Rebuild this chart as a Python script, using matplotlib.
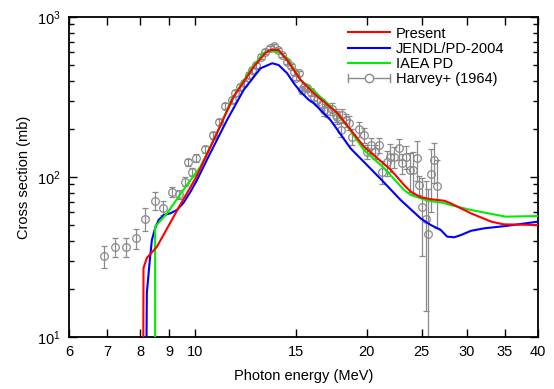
import numpy as np
import matplotlib
matplotlib.use("Agg")
import matplotlib.pyplot as plt
from matplotlib.lines import Line2D
from matplotlib.legend_handler import HandlerBase
from matplotlib.ticker import FixedLocator, FixedFormatter, NullLocator

plt.rcParams["font.family"] = ["Liberation Sans", "DejaVu Sans"]
plt.rcParams["mathtext.fontset"] = "custom"
plt.rcParams["mathtext.rm"] = "Liberation Sans"
plt.rcParams["mathtext.it"] = "Liberation Sans:italic"

# ── Evaluated curves (photon energy in MeV, cross section in mb) ──
present_e = [8.10, 8.11, 8.22, 8.56, 9.47, 10.04, 10.77, 11.68, 12.67, 13.28,
             13.55, 14.01, 14.50, 15.31, 16.13, 17.76, 19.78, 22.05, 23.27,
             23.91, 24.9, 25.93, 27.36, 28.1, 30.5, 33.1, 34.8, 40.0]
present_xs = [5.0, 27.0, 31.2, 36.6, 69.8, 100, 170, 318, 489, 596,
              622, 622, 538, 404, 335, 251, 155, 111, 89.1,
              80.9, 74.7, 72.6, 71.1, 68.5, 59.3, 52.6, 50.6, 50.1]

jendl_e = [8.20, 8.22, 8.31, 8.39, 8.50, 8.62, 8.80, 9.04, 9.28, 9.53, 9.80,
           10.07, 10.48, 11.37, 12.16, 13.02, 13.65, 14.01, 14.50, 14.90,
           15.31, 15.83, 16.15, 17.28, 18.74, 21.17, 22.95, 24.9, 25.93,
           27.0, 27.7, 28.5, 29.3, 30.5, 32.2, 35.1, 40.0]
jendl_xs = [5.0, 18.8, 28.9, 40.4, 47.8, 53.8, 57.9, 59.3, 62.2, 68.8, 80.5,
            95.7, 128, 227, 350, 478, 514, 501, 445, 385,
            341, 303, 289, 227, 151, 97.2, 71.8, 55.0, 50.1,
            46.6, 42.4, 42.0, 43.4, 46.1, 47.8, 49.4, 52.6]

iaea_e = [8.50, 8.50, 8.92, 9.53, 10.21, 10.99, 11.57, 12.5, 13.17, 13.45,
          14.0, 14.5, 15.31, 16.15, 17.28, 18.5, 19.78, 21.45, 23.27, 23.91,
          25.6, 27.19, 28.1, 30.5, 35.1, 40.0]
iaea_xs = [5.0, 48.9, 59.3, 83, 116, 197, 303, 466, 596, 615,
           604, 554, 404, 345, 278, 208, 147.5, 114, 82.9, 77.2,
           71.1, 69.0, 66.8, 62.2, 56.5, 57.0]

# ── Harvey+ (1964) measurement ──
harvey_e = [6.92, 7.23, 7.55, 7.86, 8.16, 8.48, 8.79, 9.10, 9.38, 9.58,
            9.71, 9.87, 10.04, 10.41, 10.74, 10.99, 11.29, 11.60, 11.76, 12.0,
            12.17, 12.41, 12.59, 12.76, 13.02, 13.28, 13.52, 13.74, 13.96, 14.21,
            14.50, 14.70, 14.90, 15.0, 15.20, 15.41, 15.51, 15.73, 15.94, 16.15,
            16.38, 16.71, 16.82, 17.06, 17.41, 17.64, 17.76, 18.00, 18.13, 18.37,
            18.62, 18.88, 19.39, 19.79, 20.06, 20.33, 20.66, 21.02, 21.31, 21.69,
            21.98, 22.34, 22.80, 23.11, 23.43, 23.84, 24.17, 24.50, 24.73, 25.07,
            25.4, 25.64, 25.93, 26.27, 26.56]
harvey_xs = [32.1, 36.7, 36.7, 41.4, 54.9, 71.1, 64.3, 80.9, 78.3, 93.5,
             123.5, 107.9, 132, 149, 183, 221, 278, 303, 336, 366,
             385, 434, 466, 501, 565, 607, 637, 659, 622, 579,
             523, 494, 453, 416, 445, 350, 367, 358, 341, 318,
             303, 284, 262, 260, 266, 244, 237, 197, 244, 227,
             218, 179, 199, 183, 144, 158, 144, 158, 108, 124,
             134, 134, 151, 122, 134, 111, 111, 131, 89.1, 65.2,
             54.5, 44.3, 105, 128, 87.9]
harvey_err = [5, 5, 5, 6, 9, 9, 6.5, 6, 5, 6,
              7, 6, 8, 8, 9, 10, 12, 12, 13, 14,
              15, 16, 17, 18, 20, 20, 21, 22, 21, 20,
              18, 17, 16, 15, 15, 20, 20, 20, 20, 20,
              20, 22, 22, 22, 22, 22, 22, 20, 22, 22,
              22, 20, 22, 20, 15, 17, 15, 17, 18, 22,
              27, 20, 23, 18, 22, 30, 33, 36, 12, 33,
              40, 40, 45, 36, 40]

x_ticks = [6, 7, 8, 9, 10, 15, 20, 25, 30, 35, 40]

GREY = "#8a8a8a"


class HandlerHBar(HandlerBase):
    def create_artists(self, legend, orig_handle, xdescent, ydescent,
                       width, height, fontsize, trans):
        y = height / 2 - ydescent
        x0, x1 = -xdescent, width - xdescent
        h = height * 0.35
        arts = [
            Line2D([x0, x1], [y, y], color=GREY, lw=1.0),
            Line2D([x0, x0], [y - h, y + h], color=GREY, lw=1.0),
            Line2D([x1, x1], [y - h, y + h], color=GREY, lw=1.0),
            Line2D([(x0 + x1) / 2], [y], marker="o", ms=6, mfc="white",
                   mec=GREY, mew=1.0, ls="none"),
        ]
        for a in arts:
            a.set_transform(trans)
        return arts


fig = plt.figure(figsize=(5.54, 3.89), dpi=100)
ax = fig.add_axes([69 / 554, 52 / 389, 469 / 554, 320 / 389])

eb = ax.errorbar(harvey_e, harvey_xs, yerr=harvey_err, fmt="o", ms=5.5,
                 mfc="none", mec=GREY, mew=0.9, ecolor=GREY, elinewidth=0.9,
                 capsize=2, capthick=0.9, zorder=2, label="Harvey+ (1964)")
l1, = ax.plot(present_e, present_xs, color="#ff0000", lw=1.5, zorder=5,
              label="Present")
l2, = ax.plot(jendl_e, jendl_xs, color="#0000ff", lw=1.5, zorder=3,
              label="JENDL/PD-2004")
l3, = ax.plot(iaea_e, iaea_xs, color="#00ee00", lw=1.5, zorder=4,
              label="IAEA PD")

ax.set_xscale("log")
ax.set_yscale("log")
ax.set_xlim(6, 40)
ax.set_ylim(10, 1000)
ax.xaxis.set_major_locator(FixedLocator(x_ticks))
ax.xaxis.set_major_formatter(FixedFormatter([str(t) for t in x_ticks]))
ax.xaxis.set_minor_locator(NullLocator())

ax.tick_params(which="both", direction="in", top=True, right=True,
               labelsize=10.5, width=1.0)
ax.tick_params(which="major", length=6, pad=6)
ax.tick_params(which="minor", length=3.5)
for s in ax.spines.values():
    s.set_linewidth(1.3)

ax.set_xlabel("Photon energy (MeV)", fontsize=10.5, labelpad=7)
ax.set_ylabel("Cross section (mb)", fontsize=10.5, labelpad=4)

ax.legend([l1, l2, l3, eb], ["Present", "JENDL/PD-2004", "IAEA PD",
                             "Harvey+ (1964)"],
          handler_map={eb: HandlerHBar()},
          loc="upper left", bbox_to_anchor=(0.595, 0.97), frameon=False,
          fontsize=10.5, handlelength=2.9, handletextpad=0.4,
          labelspacing=0.08, borderpad=0, borderaxespad=0)

fig.savefig("out.png", dpi=100)
